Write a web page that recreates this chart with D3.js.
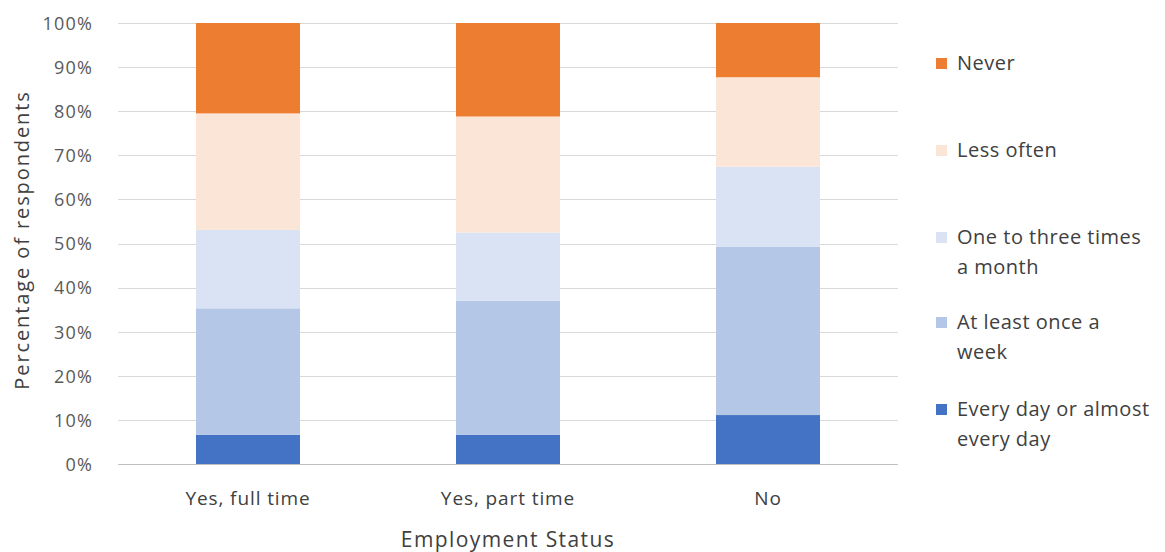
<!DOCTYPE html>
<html><head><meta charset="utf-8">
<script src="https://cdn.jsdelivr.net/npm/d3@7"></script>
<style>
html,body{margin:0;padding:0;background:#fff;}
svg{display:block;font-family:"Open Sans", sans-serif;}
</style></head>
<body><svg id="chart" width="1165" height="552"></svg>
<script>
const categories = ["Yes, full time", "Yes, part time", "No"];
const seriesNames = ["Every day or almost every day", "At least once a week", "One to three times a month", "Less often", "Never"];
const everyDay   = [6.6, 6.6, 11.1];
const onceWeek   = [28.7, 30.4, 38.2];
const oneToThree = [17.8, 15.5, 18.1];
const lessOften  = [26.4, 26.3, 20.3];
const never      = [20.5, 21.2, 12.3];
const yTicks = [0, 10, 20, 30, 40, 50, 60, 70, 80, 90, 100];
const colors = ["#4472C4", "#B4C7E7", "#DAE3F3", "#FBE5D6", "#ED7D31"];
const legendLines = [["Never"], ["Less often"], ["One to three times", "a month"], ["At least once a", "week"], ["Every day or almost", "every day"]];
const legendColorIdx = [4, 3, 2, 1, 0];

(function(){
const seriesVals = [everyDay, onceWeek, oneToThree, lessOften, never];
const rows = categories.map((c, i) => {
  const r = {cat: c};
  seriesNames.forEach((s, j) => r[s] = seriesVals[j][i]);
  return r;
});
const stacked = d3.stack().keys(seriesNames)(rows);

const svg = d3.select("#chart");
const pl = 118, pr = 898, pt = 23, pb = 464;
const x = d3.scaleBand().domain(categories).range([pl, pr]).paddingInner(0.6).paddingOuter(0.3);
const y = d3.scaleLinear().domain([0, 100]).range([pb, pt]);

svg.append("g").selectAll("line").data(yTicks.filter(t => t > 0)).join("line")
  .attr("x1", pl).attr("x2", pr)
  .attr("y1", d => Math.round(y(d)) + 0.5).attr("y2", d => Math.round(y(d)) + 0.5)
  .attr("stroke", "#d9d9d9").attr("stroke-width", 1.2);

svg.append("g").selectAll("g").data(stacked).join("g")
  .attr("fill", (d, i) => colors[i])
  .selectAll("rect").data(d => d).join("rect")
  .attr("x", d => x(d.data.cat))
  .attr("width", x.bandwidth())
  .attr("y", d => y(d[1]))
  .attr("height", d => y(d[0]) - y(d[1]));

svg.append("line").attr("x1", pl).attr("x2", pr)
  .attr("y1", pb + 0.5).attr("y2", pb + 0.5)
  .attr("stroke", "#bfbfbf").attr("stroke-width", 1.2);

const yAxis = d3.axisLeft(y).tickValues(yTicks).tickFormat(d => d + "%").tickSize(0).tickPadding(0);
const yg = svg.append("g").attr("transform", `translate(93,0)`).call(yAxis);
yg.select(".domain").remove();
yg.selectAll("text").attr("font-size", 18).attr("letter-spacing", 1.2).attr("fill", "#595959")
  .attr("font-family", "'Open Sans', sans-serif").attr("dy", "0.35em");

const xAxis = d3.axisBottom(x).tickSize(0).tickPadding(0);
const xg = svg.append("g").attr("transform", `translate(0,${pb})`).call(xAxis);
xg.select(".domain").remove();
xg.selectAll("text").attr("font-size", 19).attr("letter-spacing", 0.9).attr("fill", "#404040")
  .attr("font-family", "'Open Sans', sans-serif").attr("dy", null).attr("y", 41);

svg.append("text").attr("x", (pl + pr) / 2).attr("y", 547).attr("text-anchor", "middle")
  .attr("font-size", 21).attr("letter-spacing", 1.4).attr("fill", "#404040").text("Employment Status");
svg.append("text").attr("transform", "translate(29,240) rotate(-90)").attr("text-anchor", "middle")
  .attr("font-size", 20).attr("letter-spacing", 1.9).attr("fill", "#404040").text("Percentage of respondents");

const legendTops = [63, 150, 237, 322, 409];
const lg = svg.append("g");
legendLines.forEach((lines, i) => {
  const yy = legendTops[i];
  lg.append("rect").attr("x", 936).attr("y", yy - 5).attr("width", 11).attr("height", 11).attr("fill", colors[legendColorIdx[i]]);
  const t = lg.append("text").attr("x", 957).attr("y", yy).attr("font-size", 20).attr("letter-spacing", 0.5).attr("fill", "#404040");
  lines.forEach((l, k) => t.append("tspan").attr("x", 957).attr("dy", k === 0 ? "0.35em" : 30).text(l));
});
})();
</script></body></html>
